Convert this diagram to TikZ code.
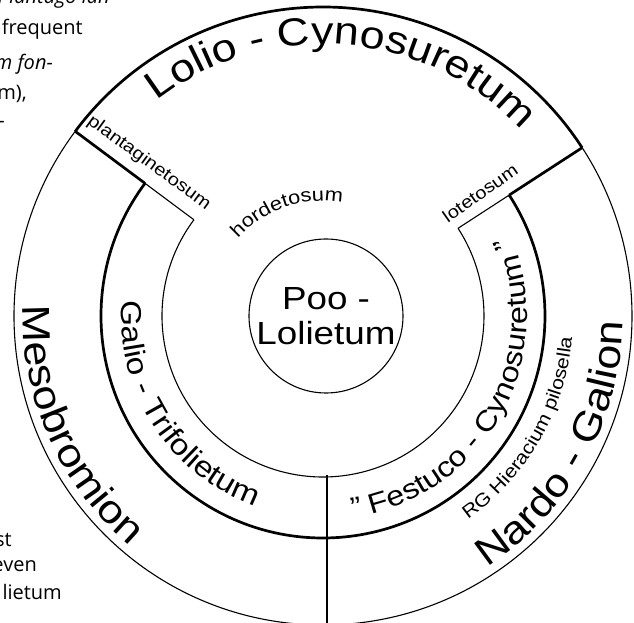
\documentclass[tikz,border=0pt]{standalone}
\usepackage{fontspec}
\setmainfont[FakeStretch=1.15]{Liberation Sans}
\newfontfamily\pagefont{Open Sans}
\usetikzlibrary{decorations.text}

% text along an arc round the centre: radius, start, end, size, text
\newcommand\ringtext[5]{%
  \path[decorate,decoration={text along path,text align=center,
    text={|\fontsize{#4}{#4}\selectfont|#5}}]
    (#2:#1) arc[start angle=#2,end angle=#3,radius=#1];}

\begin{document}
\begin{tikzpicture}[x=1pt,y=1pt,
  thinline/.style={line width=1.1pt},
  thickline/.style={line width=2.7pt},
  pagetext/.style={anchor=base east,inner sep=0,font=\pagefont\fontsize{20}{20}\selectfont}]
\useasboundingbox (-323,-307) rectangle (311,316);

\coordinate (O) at (0,0);
\coordinate (pl-out) at (143.3:309);
\coordinate (pl-mid) at (143.3:222);
\coordinate (pl-in) at (143.3:161);
\coordinate (lo-out) at (33:309);
\coordinate (lo-mid) at (33:222);
\coordinate (lo-in) at (33:161);
\coordinate (cut-top) at (4,-159);
\coordinate (cut-bot) at (4,-307);

% rings
\draw[thinline] (O) circle[radius=309];
\draw[thickline] (lo-out) arc[start angle=33,end angle=143.3,radius=309];
\draw[thickline] (pl-out) -- (pl-mid);
\draw[thinline] (pl-mid) -- (pl-in);
\draw[thickline] (lo-out) -- (lo-mid);
\draw[thinline] (lo-mid) -- (lo-in);
\draw[thickline] (pl-mid) arc[start angle=143.3,end angle=393,radius=222];
\draw[thinline] (pl-in) arc[start angle=143.3,end angle=393,radius=161];
\draw[thinline] (cut-top) -- (cut-bot);

\node[draw,thinline,circle,minimum size=154,inner sep=0,align=center,
  font=\fontsize{32}{35}\selectfont] (poo) at (3,0) {Poo -\\Lolietum};

% names round the rings
\ringtext{272}{175.4}{-4.6}{39}{Lolio - Cynosuretum}
\ringtext{300}{114}{294}{39}{Mesobromion}
\ringtext{300}{-119}{61}{39}{Nardo - Galion}
\ringtext{202}{123}{303}{29}{Galio - Trifolietum}
\ringtext{204}{-119.2}{60.8}{28}{" Festuco - Cynosuretum "}
\ringtext{250}{-119.75}{60.25}{18.5}{RG Hieracium pilosella}
\ringtext{115}{199}{19}{19}{hordetosum}

\node[rotate=-36,font=\fontsize{17.5}{17.5}\selectfont] (plant) at (-174,153) {plantaginetosum};
\node[rotate=35,font=\fontsize{17.5}{17.5}\selectfont] (lote) at (157,123) {lotetosum};

% page text beside the figure
\node[pagetext,font=\pagefont\itshape\fontsize{20}{20}\selectfont] (p1) at (-213,312) {Plantago lan};
\node[pagetext] (p2) at (-240,281) {frequent};
\node[pagetext,font=\pagefont\itshape\fontsize{20}{20}\selectfont] (p3) at (-270,246) {m fon-};
\node[pagetext] (p4) at (-296,216) {m),};
\node[pagetext] (p5) at (-318,188) {-};
\node[pagetext] (p6) at (-311,-230) {st};
\node[pagetext] (p7) at (-286,-255) {even};
\node[pagetext] (p8) at (-261,-283) {lietum};
\end{tikzpicture}
\end{document}
